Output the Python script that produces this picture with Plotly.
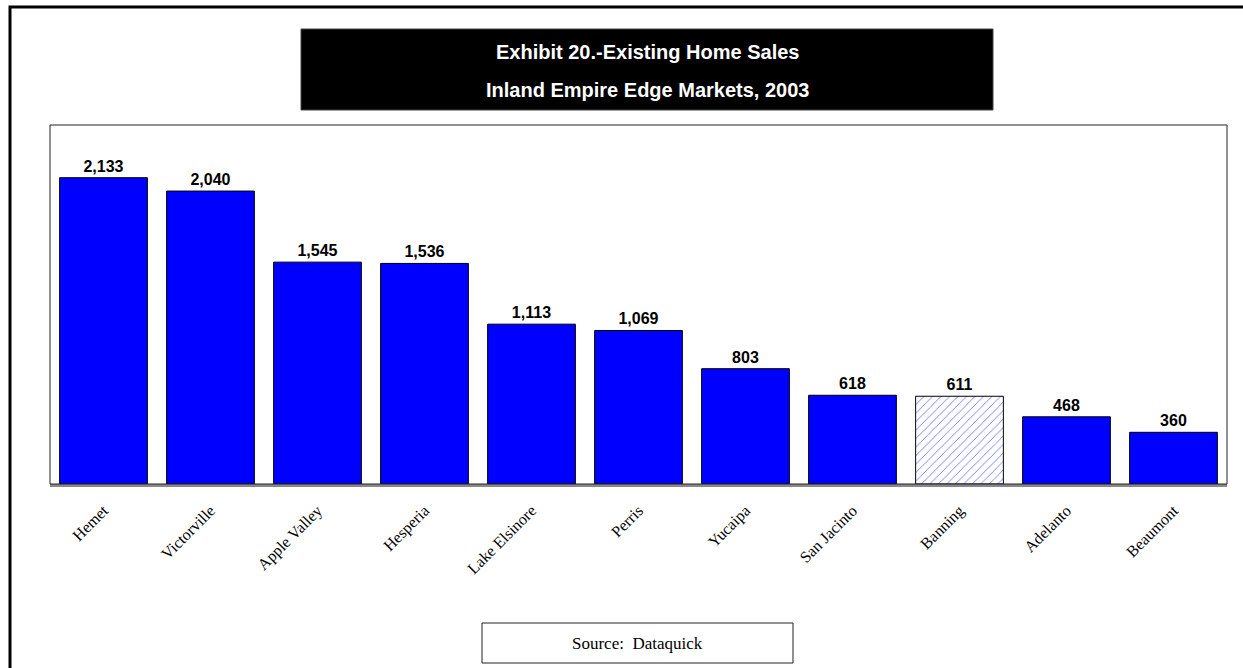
import plotly.graph_objects as go

# Existing home sales, 2003
cities = ["Hemet", "Victorville", "Apple Valley", "Hesperia", "Lake Elsinore",
          "Perris", "Yucaipa", "San Jacinto", "Banning", "Adelanto", "Beaumont"]
sales = [2133, 2040, 1545, 1536, 1113, 1069, 803, 618, 611, 468, 360]
highlight = "Banning"

W, H = 1243, 668
PLOT_L, PLOT_R, PLOT_T, PLOT_B = 50, 1227, 125, 484
Y_MAX = 2500


def px_x(x):
    return (x - PLOT_L) / (PLOT_R - PLOT_L)


def px_y(y):
    return (PLOT_B - y) / (PLOT_B - PLOT_T)


BLUE = "#0000FF"
label_font = dict(family="Arial, Liberation Sans, sans-serif", size=16,
                  color="black", weight="bold")

solid = [(c, v) for c, v in zip(cities, sales) if c != highlight]
hatched = [(c, v) for c, v in zip(cities, sales) if c == highlight]

fig = go.Figure()
fig.add_trace(go.Bar(
    x=[c for c, _ in solid],
    y=[v for _, v in solid],
    marker=dict(color=BLUE, line=dict(color="black", width=1)),
    text=[f"{v:,}" for _, v in solid],
    textposition="outside",
    textfont=label_font,
    cliponaxis=False,
))
fig.add_trace(go.Bar(
    x=[c for c, _ in hatched],
    y=[v for _, v in hatched],
    marker=dict(
        color=BLUE,
        line=dict(color="black", width=1),
        pattern=dict(shape="/", fgcolor="#3333FF", bgcolor="white",
                     fillmode="replace", fgopacity=0.85,
                     size=6, solidity=0.12),
    ),
    text=[f"{v:,}" for _, v in hatched],
    textposition="outside",
    textfont=label_font,
    cliponaxis=False,
))

shapes = [
    # page frame
    dict(type="rect", xref="paper", yref="paper",
         x0=px_x(10), x1=px_x(W + 20), y0=px_y(7), y1=px_y(H + 20),
         line=dict(color="black", width=3), layer="below"),
    # title block
    dict(type="rect", xref="paper", yref="paper",
         x0=px_x(301), x1=px_x(993), y0=px_y(29), y1=px_y(110),
         fillcolor="black", line=dict(color="#444", width=1), layer="below"),
    # plot frame
    dict(type="rect", xref="paper", yref="paper",
         x0=0, x1=1, y0=0, y1=1,
         line=dict(color="#222", width=1), layer="above"),
    # source note box
    dict(type="rect", xref="paper", yref="paper",
         x0=px_x(482), x1=px_x(793), y0=px_y(623), y1=px_y(663),
         fillcolor="white", line=dict(color="#222", width=1), layer="below"),
]

title_font = dict(family="Arial, Liberation Sans, sans-serif", size=20,
                  color="white", weight="bold")
annotations = [
    dict(text="Exhibit 20.-Existing Home Sales", xref="paper", yref="paper",
         x=px_x(647), y=px_y(52), xanchor="center", yanchor="middle",
         showarrow=False, font=title_font),
    dict(text="Inland Empire Edge Markets, 2003", xref="paper", yref="paper",
         x=px_x(647), y=px_y(90), xanchor="center", yanchor="middle",
         showarrow=False, font=title_font),
    dict(text="Source:&nbsp; Dataquick", xref="paper", yref="paper",
         x=px_x(637), y=px_y(643), xanchor="center", yanchor="middle",
         showarrow=False,
         font=dict(family="Liberation Serif, Times New Roman, serif",
                   size=17, color="black")),
]

fig.update_layout(
    width=W, height=H,
    margin=dict(l=PLOT_L, r=W - PLOT_R, t=PLOT_T, b=H - PLOT_B),
    paper_bgcolor="white",
    plot_bgcolor="white",
    showlegend=False,
    barmode="overlay",
    bargap=0.18,
    shapes=shapes,
    annotations=annotations,
    xaxis=dict(
        categoryorder="array", categoryarray=cities,
        tickangle=-45,
        tickfont=dict(family="Liberation Serif, Times New Roman, serif",
                      size=16, color="black"),
        showline=True, linecolor="#888", linewidth=3,
        showgrid=False, ticks="", ticklabelstandoff=8,
        layer="below traces",
    ),
    yaxis=dict(
        range=[0, Y_MAX], visible=False, showgrid=False, zeroline=False,
    ),
)

fig.write_html("out.html")
